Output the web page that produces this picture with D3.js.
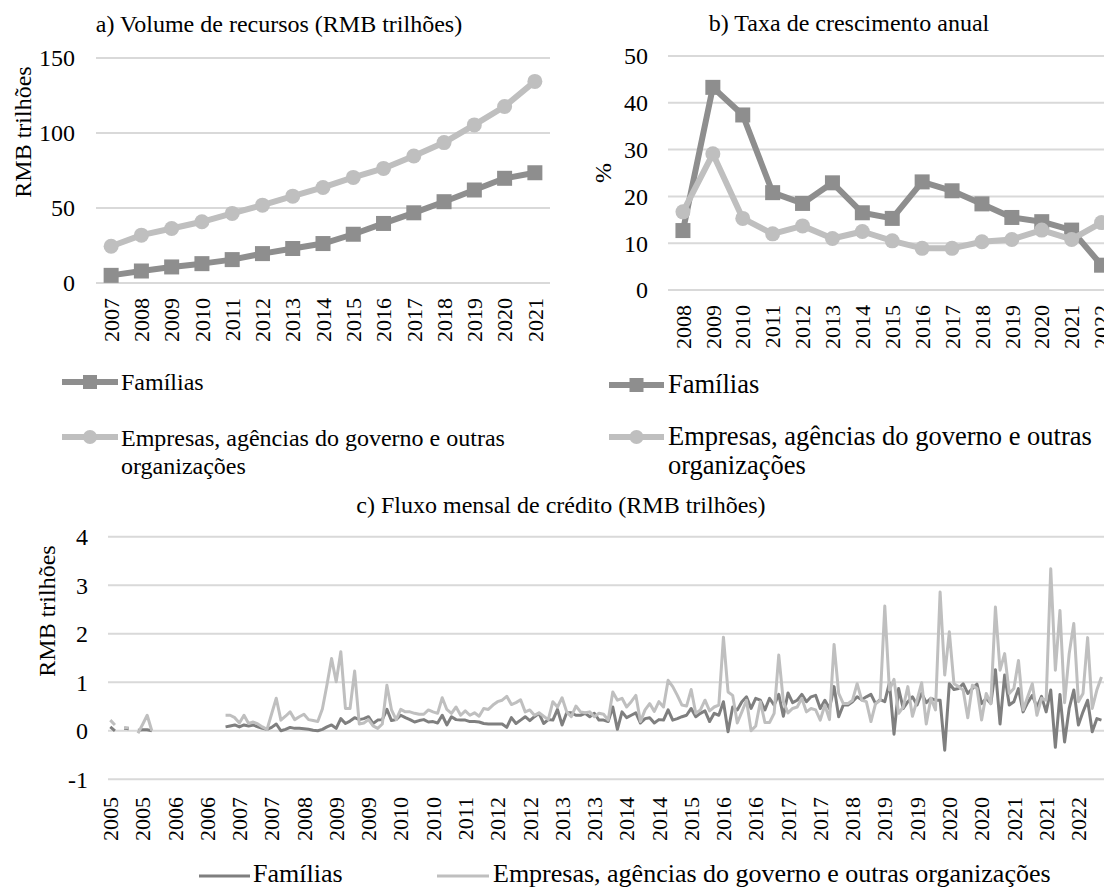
<!DOCTYPE html>
<html><head><meta charset="utf-8">
<script src="https://cdn.jsdelivr.net/npm/d3@7"></script>
<style>
body{margin:0;background:#fff}
svg{display:block;background:#fff}
text{font-family:"Liberation Serif","Times New Roman",serif;fill:#000}
</style>
</head><body>
<svg id="chart" width="1104" height="888"></svg>
<script>
// ---------- DATA ----------
const yearsA = ["2007","2008","2009","2010","2011","2012","2013","2014","2015","2016","2017","2018","2019","2020","2021"];
const famA = [5.1,8.0,10.7,12.9,15.6,19.6,23.0,26.3,32.5,39.7,46.8,54.2,62.0,69.8,73.5];
const entA = [24.5,31.9,36.3,40.8,46.4,51.9,57.9,63.7,70.4,76.4,84.7,93.6,105.4,117.7,134.4];
const ticksA = [0,50,100,150];

const yearsB = ["2008","2009","2010","2011","2012","2013","2014","2015","2016","2017","2018","2019","2020","2021","2022"];
const famB = [12.7,43.3,37.4,20.8,18.5,22.9,16.5,15.3,23.1,21.2,18.4,15.5,14.6,12.8,5.3];
const entB = [16.7,29.1,15.3,12.0,13.7,11.0,12.5,10.5,8.9,8.9,10.3,10.8,12.8,10.8,14.4];
const ticksB = [0,10,20,30,40,50];

const ticksC = [-1,0,1,2,3,4];
const firstYearC = 2005, lastYearC = 2022, tickEveryC = 7;
const famC = [
 0.08,0.0,null,0.05,0.04,null,0.01,0.02,0.02,0.0,
 null,null,null,null,null,null,null,null,null,null,null,null,null,null,null,
 0.08,0.10,0.12,0.08,0.12,0.10,0.12,0.08,0.05,0.03,0.07,0.14,0.00,0.03,0.07,0.05,0.05,0.04,0.03,0.01,0.00,0.03,0.08,0.12,0.05,0.25,0.15,0.20,
 0.27,0.23,0.25,0.29,0.15,0.22,0.23,0.44,0.21,0.23,0.32,0.27,0.23,0.18,0.21,0.23,0.18,0.19,0.16,0.32,0.12,0.29,0.23,0.22,0.22,0.19,0.19,0.18,0.15,0.14,0.14,0.14,0.14,0.07,0.27,0.15,0.22,0.29,0.21,0.29,0.36,0.15,0.23,0.22,0.44,0.12,0.37,0.37,0.32,0.32,0.36,0.29,0.36,0.22,
 0.22,0.19,0.49,0.03,0.39,0.27,0.32,0.37,0.16,0.25,0.27,0.16,0.23,0.22,0.43,0.22,0.25,0.29,0.32,0.46,0.29,0.36,0.41,0.19,0.36,0.32,0.60,-0.02,0.49,0.43,0.60,0.70,0.46,0.67,0.63,0.43,0.67,0.53,0.75,0.30,0.78,0.58,0.63,0.75,0.60,0.70,0.73,0.46,0.63,0.46,0.91,0.29,0.53,0.53,
 0.60,0.70,0.64,0.70,0.75,0.56,0.64,0.60,0.99,-0.07,0.87,0.46,0.60,0.70,0.53,0.77,0.58,0.67,0.63,0.63,-0.40,0.97,0.85,0.87,0.97,0.77,0.87,0.96,0.56,0.67,0.56,1.26,0.14,1.15,0.53,0.60,0.87,0.39,0.58,0.73,0.49,0.71,0.39,0.84,-0.34,0.75,-0.23,0.46,0.84,0.12,0.39,0.63,-0.02,0.25,0.22
];
const entC = [
 0.22,0.12,null,0.07,0.06,null,-0.05,0.13,0.32,0.0,
 null,null,null,null,null,null,null,null,null,null,null,null,null,null,null,
 0.32,0.32,0.27,0.16,0.32,0.15,0.18,0.14,0.08,0.03,0.35,0.67,0.22,0.30,0.39,0.23,0.29,0.34,0.23,0.21,0.19,0.45,0.95,1.49,1.01,1.63,0.46,0.46,
 1.23,0.14,0.16,0.23,0.10,0.05,0.14,0.94,0.43,0.23,0.44,0.39,0.39,0.36,0.34,0.34,0.43,0.39,0.36,0.68,0.44,0.36,0.49,0.32,0.41,0.32,0.37,0.30,0.46,0.44,0.53,0.60,0.63,0.71,0.54,0.58,0.64,0.39,0.43,0.32,0.37,0.30,0.23,0.60,0.49,0.68,0.39,0.29,0.51,0.39,0.37,0.39,0.29,0.36,
 0.34,0.22,0.80,0.63,0.67,0.49,0.60,0.73,0.19,0.43,0.56,0.40,0.60,0.49,1.04,0.91,0.73,0.53,0.51,0.85,0.36,0.43,0.63,0.41,0.49,0.53,1.93,0.80,0.73,0.16,0.39,0.63,0.0,0.10,0.60,0.17,0.17,0.36,1.56,0.60,0.37,0.46,0.49,0.67,0.39,0.46,0.43,0.22,0.53,0.23,1.78,0.77,0.56,0.56,
 0.63,0.97,0.63,0.60,0.19,0.56,0.63,2.57,0.84,1.06,0.36,0.49,0.91,0.30,0.63,0.99,0.14,0.67,0.43,2.86,1.15,2.04,0.97,0.91,0.84,0.27,0.94,0.87,0.22,0.77,0.56,2.55,1.25,1.59,0.77,0.87,1.45,0.43,0.70,0.97,0.32,0.67,0.63,3.34,1.25,2.48,0.58,1.59,2.21,0.60,0.77,1.92,0.46,0.84,1.11
];
const seriesNames = ["Famílias","Empresas, agências do governo e outras organizações"];
const legendWrap = ["Empresas, agências do governo e outras","organizações"];
const titles = ["a) Volume de recursos (RMB trilhões)","b) Taxa de crescimento anual","c) Fluxo mensal de crédito (RMB trilhões)"];

// ---------- STYLE ----------
const DARK = "#8e8e8e", LIGHT = "#bfbfbf", DARKC = "#7f7f7f", GRID = "#d9d9d9";
const svg = d3.select("#chart");
svg.append("rect").attr("width",1104).attr("height",888).attr("fill","#fff");

function gridAndY(g, y, ticks, x0, x1, labelX){
  g.selectAll(null).data(ticks).join("line")
    .attr("x1",x0).attr("x2",x1).attr("y1",d=>y(d)).attr("y2",d=>y(d))
    .attr("stroke",GRID).attr("stroke-width",2);
  g.selectAll(null).data(ticks).join("text")
    .attr("x",labelX).attr("y",d=>y(d)).attr("dy","0.35em")
    .attr("text-anchor","end").style("font-size","24px").text(d=>d);
}
function rotLabel(g, x, y, txt, size){
  g.append("text").attr("transform",`translate(${x},${y}) rotate(-90)`)
   .attr("text-anchor","middle").attr("dy","0.35em").style("font-size",size+"px").text(txt);
}
function xLabels(g, cats, x, top, size){
  g.selectAll(null).data(cats).join("text")
    .attr("transform",d=>`translate(${x(d)+x.bandwidth()/2},${top}) rotate(-90)`)
    .attr("text-anchor","end").attr("dy","0.35em").style("font-size",size+"px")
    .text(d=>d);
}
function markerSeries(g, cats, vals, x, y, color, shape){
  const line = d3.line().x((d,i)=>x(cats[i])+x.bandwidth()/2).y(d=>y(d));
  g.append("path").datum(vals).attr("d",line).attr("fill","none")
    .attr("stroke",color).attr("stroke-width",6).attr("stroke-linejoin","round");
  if(shape==="square"){
    g.selectAll(null).data(vals).join("rect")
      .attr("x",(d,i)=>x(cats[i])+x.bandwidth()/2-7.5).attr("y",d=>y(d)-7.5)
      .attr("width",15).attr("height",15).attr("fill",color);
  } else {
    g.selectAll(null).data(vals).join("circle")
      .attr("cx",(d,i)=>x(cats[i])+x.bandwidth()/2).attr("cy",d=>y(d))
      .attr("r",7.5).attr("fill",color);
  }
}
function legendItem(g, x0, x1, y, color, shape, lines, tx, baselines, size, width){
  g.append("line").attr("x1",x0).attr("x2",x1).attr("y1",y).attr("y2",y)
    .attr("stroke",color).attr("stroke-width",width);
  const cx=(x0+x1)/2;
  if(shape==="square") g.append("rect").attr("x",cx-7).attr("y",y-7).attr("width",14).attr("height",14).attr("fill",color);
  if(shape==="circle") g.append("circle").attr("cx",cx).attr("cy",y).attr("r",7).attr("fill",color);
  lines.forEach((t,i)=>g.append("text").attr("x",tx).attr("y",baselines[i]).style("font-size",size+"px").text(t));
}

// ---------- PANEL A ----------
{
  const g = svg.append("g");
  const x = d3.scaleBand().domain(yearsA).range([96,550]);
  const y = d3.scaleLinear().domain([0,150]).range([283,58]);
  g.append("text").attr("x",279).attr("y",32).attr("text-anchor","middle").style("font-size","24px").text(titles[0]);
  gridAndY(g,y,ticksA,96,550,75);
  rotLabel(g,23,132,"RMB trilhões",24);
  xLabels(g,yearsA,x,298,22);
  markerSeries(g,yearsA,famA,x,y,DARK,"square");
  markerSeries(g,yearsA,entA,x,y,LIGHT,"circle");
  legendItem(g,62,118,382,DARK,"square",[seriesNames[0]],121,[390],24,6);
  legendItem(g,62,118,437,LIGHT,"circle",legendWrap,121,[446,474],24,6);
}
// ---------- PANEL B ----------
{
  const g = svg.append("g");
  const x = d3.scaleBand().domain(yearsB).range([668,668+15*29.9]);
  const y = d3.scaleLinear().domain([0,50]).range([290,56]);
  g.append("text").attr("x",849).attr("y",31).attr("text-anchor","middle").style("font-size","24px").text(titles[1]);
  gridAndY(g,y,ticksB,668,1120,648);
  rotLabel(g,603,173,"%",24);
  xLabels(g,yearsB,x,305,22);
  markerSeries(g,yearsB,famB,x,y,DARK,"square");
  markerSeries(g,yearsB,entB,x,y,LIGHT,"circle");
  legendItem(g,609,664,385,DARK,"square",[seriesNames[0]],668,[393],26.5,6);
  legendItem(g,609,664,437,LIGHT,"circle",legendWrap,668,[445,474],26.5,6);
}
// ---------- PANEL C ----------
{
  const g = svg.append("g");
  const months = [];
  for(let yr=firstYearC; yr<=lastYearC; yr++) for(let m=1;m<=12;m++) months.push({key:yr+"-"+m, label:String(yr), idx:months.length});
  const x = d3.scaleBand().domain(months.map(d=>d.key)).range([108,108+216*4.61]);
  const y = d3.scaleLinear().domain([-1,4]).range([779.3,536.7]);
  g.append("text").attr("x",561).attr("y",513).attr("text-anchor","middle").style("font-size","24px").text(titles[2]);
  gridAndY(g,y,ticksC,108,1104,88);
  rotLabel(g,47,611,"RMB trilhões",24);
  g.selectAll(null).data(months.filter(d=>d.idx%tickEveryC===0)).join("text")
    .attr("transform",d=>`translate(${x(d.key)+x.bandwidth()/2},797) rotate(-90)`)
    .attr("text-anchor","end").attr("dy","0.35em").style("font-size","22px").text(d=>d.label);
  const line = vals => d3.line().defined(d=>d!=null)
      .x((d,i)=>x(months[i].key)+x.bandwidth()/2).y(d=>y(d))(vals);
  g.append("path").attr("d",line(famC)).attr("fill","none").attr("stroke",DARKC).attr("stroke-width",3).attr("stroke-linejoin","round");
  g.append("path").attr("d",line(entC)).attr("fill","none").attr("stroke",LIGHT).attr("stroke-width",3).attr("stroke-linejoin","round");
  legendItem(g,199,250,876,DARKC,null,[seriesNames[0]],253,[882],26,3);
  legendItem(g,437,489,876,LIGHT,null,[seriesNames[1]],493,[882],26,3);
}
</script>
</body></html>
